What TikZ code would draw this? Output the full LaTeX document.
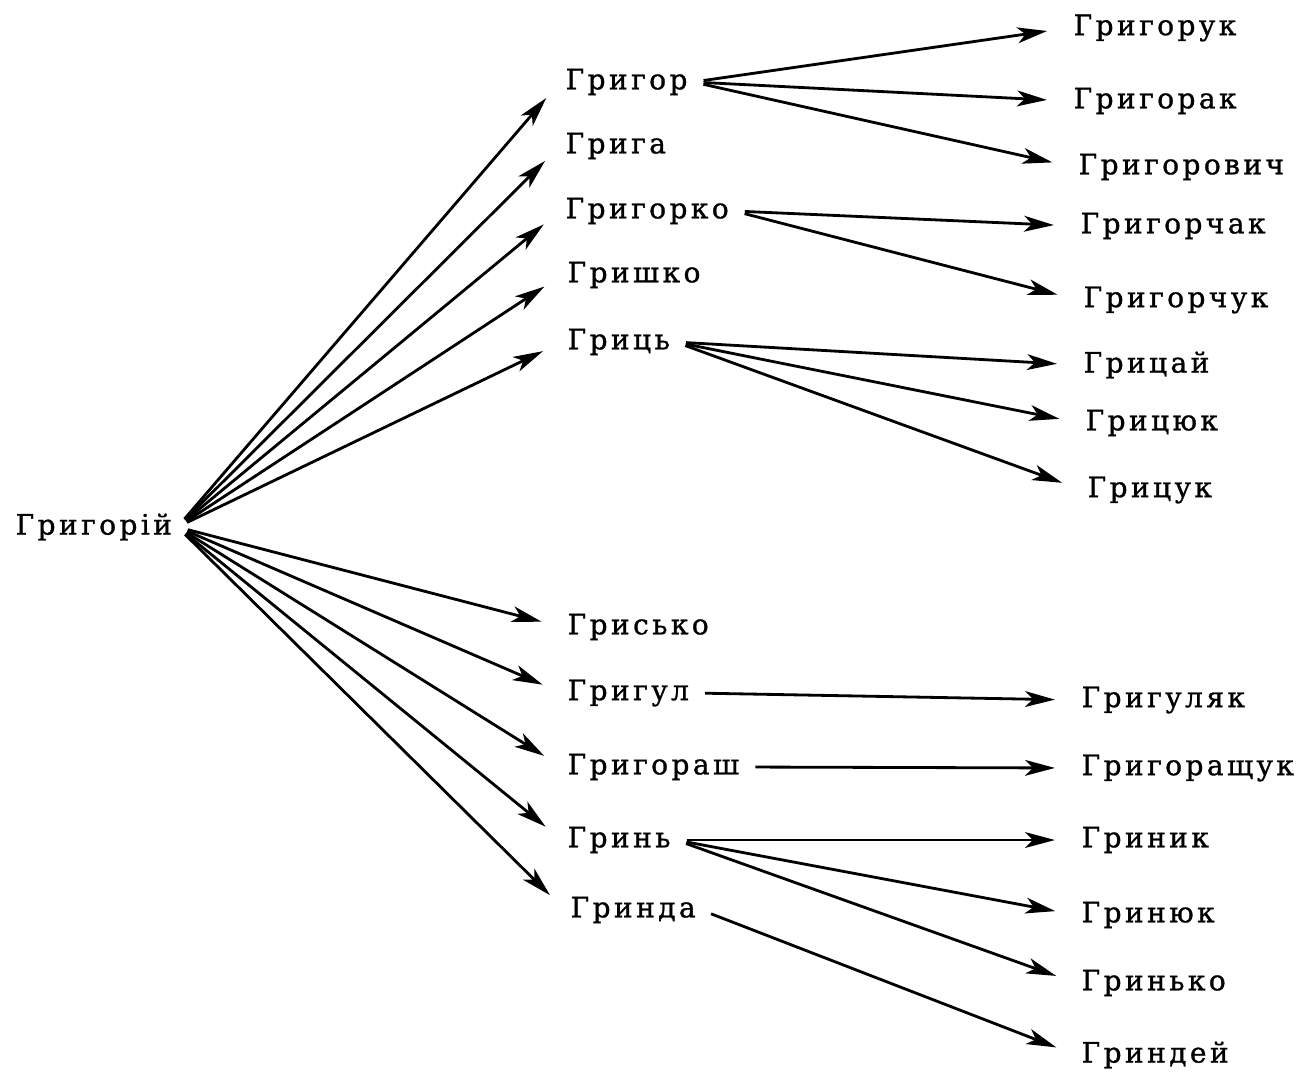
\documentclass[tikz,border=0pt]{standalone}
\usepackage{fontspec}
\newfontfamily\namefont[LetterSpace=12,FakeBold=1]{DejaVu Serif}
\usetikzlibrary{arrows.meta}
\begin{document}
\begin{tikzpicture}[x=0.02cm,y=-0.02cm,
  surname/.style={font=\namefont\fontsize{16}{18}\selectfont, anchor=west, inner sep=3pt},
  link/.style={-{Stealth[length=17pt,width=9pt,inset=4.5pt]}, line width=1.6pt, shorten >=12pt, shorten <=6pt}]
\useasboundingbox (0,0) rectangle (1310,1079);
% root
\node[surname] (grigorij) at (10,527) {Григорій};
% second column
\node[surname] (grigor) at (560,82) {Григор};
\node[surname] (griga) at (560,146) {Грига};
\node[surname] (grigorko) at (560,211) {Григорко};
\node[surname] (grishko) at (562,275) {Гришко};
\node[surname] (gric) at (562,342) {Гриць};
\node[surname] (grisko) at (562,627) {Грисько};
\node[surname] (grigul) at (562,693) {Григул};
\node[surname] (grigorash) at (562,767) {Григораш};
\node[surname] (grin) at (562,840) {Гринь};
\node[surname] (grinda) at (565,910) {Гринда};
% third column
\node[surname] (grigoruk) at (1068,28) {Григорук};
\node[surname] (grigorak) at (1068,101) {Григорак};
\node[surname] (grigorovich) at (1073,167) {Григорович};
\node[surname] (grigorchak) at (1075,226) {Григорчак};
\node[surname] (grigorchuk) at (1078,300) {Григорчук};
\node[surname] (gricaj) at (1078,365) {Грицай};
\node[surname] (gricjuk) at (1080,423) {Грицюк};
\node[surname] (gricuk) at (1082,490) {Грицук};
\node[surname] (griguljak) at (1076,700) {Григуляк};
\node[surname] (grigorashchuk) at (1076,768) {Григоращук};
\node[surname] (grinik) at (1076,840) {Гриник};
\node[surname] (grinjuk) at (1076,915) {Гринюк};
\node[surname] (grinko) at (1076,983) {Гринько};
\node[surname] (grindej) at (1076,1055) {Гриндей};
% from the root
\draw[link] (grigorij.east) -- (grigor.west);
\draw[link] (grigorij.east) -- (griga.west);
\draw[link] (grigorij.east) -- (grigorko.west);
\draw[link] (grigorij.east) -- (grishko.west);
\draw[link] (grigorij.east) -- (gric.west);
\draw[link] (grigorij.east) -- (grisko.west);
\draw[link] (grigorij.east) -- (grigul.west);
\draw[link] (grigorij.east) -- (grigorash.west);
\draw[link] (grigorij.east) -- (grin.west);
\draw[link] (grigorij.east) -- (grinda.west);
% second to third column
\draw[link] (grigor.east) -- (grigoruk.west);
\draw[link] (grigor.east) -- (grigorak.west);
\draw[link] (grigor.east) -- (grigorovich.west);
\draw[link] (grigorko.east) -- (grigorchak.west);
\draw[link] (grigorko.east) -- (grigorchuk.west);
\draw[link] (gric.east) -- (gricaj.west);
\draw[link] (gric.east) -- (gricjuk.west);
\draw[link] (gric.east) -- (gricuk.west);
\draw[link] (grigul.east) -- (griguljak.west);
\draw[link] (grigorash.east) -- (grigorashchuk.west);
\draw[link] (grin.east) -- (grinik.west);
\draw[link] (grin.east) -- (grinjuk.west);
\draw[link] (grin.east) -- (grinko.west);
\draw[link] (grinda.east) -- (grindej.west);
\end{tikzpicture}
\end{document}
